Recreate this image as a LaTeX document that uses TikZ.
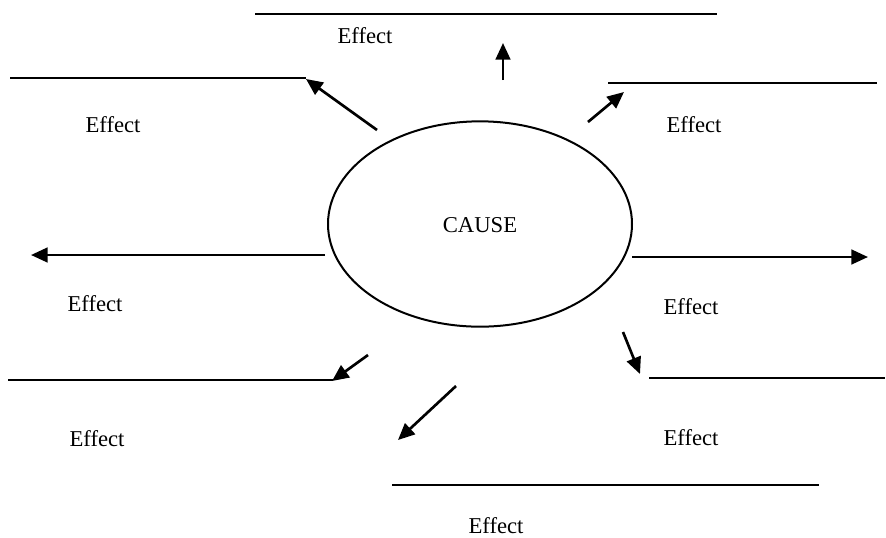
\documentclass[tikz,border=0pt]{standalone}
\usepackage{fontspec}
\setmainfont{Liberation Serif}
\usetikzlibrary{arrows.meta,shapes.geometric}
\begin{document}
\begin{tikzpicture}[x=0.75pt,y=-0.75pt,
  ln/.style={line width=1.7pt},
  arr/.style={line width=2pt,-{Triangle[length=12.5pt,width=11pt]}},
  lbl/.style={font=\fontsize{17pt}{20pt}\selectfont,inner sep=0pt}]
\useasboundingbox (0,0) rectangle (886,537);
% cause
\node[draw,line width=1.5pt,ellipse,minimum width=228pt,minimum height=154pt,inner sep=0pt] (cause) at (480,224) {};
\node[lbl] (causetxt) at (480,225) {CAUSE};
% top
\coordinate (t1) at (255,14); \coordinate (t2) at (717,14);
\draw[ln] (t1) -- (t2);
\node[lbl] (e1) at (365,36) {Effect};
\coordinate (a1s) at (503,80); \coordinate (a1e) at (503,43);
\draw[arr] (a1s) -- (a1e);
% upper left
\coordinate (ul1) at (10,78); \coordinate (ul2) at (306,78);
\draw[ln] (ul1) -- (ul2);
\coordinate (a2s) at (377,130); \coordinate (a2e) at (306,79);
\draw[arr] (a2s) -- (a2e);
\node[lbl] (e2) at (113,125) {Effect};
% upper right
\coordinate (ur1) at (608,83); \coordinate (ur2) at (877,83);
\draw[ln] (ur1) -- (ur2);
\coordinate (a3s) at (588,122); \coordinate (a3e) at (624,92);
\draw[arr] (a3s) -- (a3e);
\node[lbl] (e3) at (694,125) {Effect};
% left
\coordinate (a4s) at (325,255); \coordinate (a4e) at (31,255);
\draw[arr] (a4s) -- (a4e);
\node[lbl] (e4) at (95,304) {Effect};
% right
\coordinate (a5s) at (632,257); \coordinate (a5e) at (868,257);
\draw[arr] (a5s) -- (a5e);
\node[lbl] (e5) at (691,307) {Effect};
% lower left
\coordinate (ll1) at (8,380); \coordinate (ll2) at (333,380);
\draw[ln] (ll1) -- (ll2);
\coordinate (a6s) at (368,355); \coordinate (a6e) at (332,381);
\draw[arr] (a6s) -- (a6e);
\node[lbl] (e6) at (97,439) {Effect};
% lower right
\coordinate (a7s) at (623,332); \coordinate (a7e) at (640,374);
\draw[arr] (a7s) -- (a7e);
\coordinate (lr1) at (649,378); \coordinate (lr2) at (885,378);
\draw[ln] (lr1) -- (lr2);
\node[lbl] (e7) at (691,438) {Effect};
% bottom
\coordinate (a8s) at (456,386); \coordinate (a8e) at (398,440);
\draw[arr] (a8s) -- (a8e);
\coordinate (b1) at (392,485); \coordinate (b2) at (819,485);
\draw[ln] (b1) -- (b2);
\node[lbl] (e8) at (496,526) {Effect};
\end{tikzpicture}
\end{document}
